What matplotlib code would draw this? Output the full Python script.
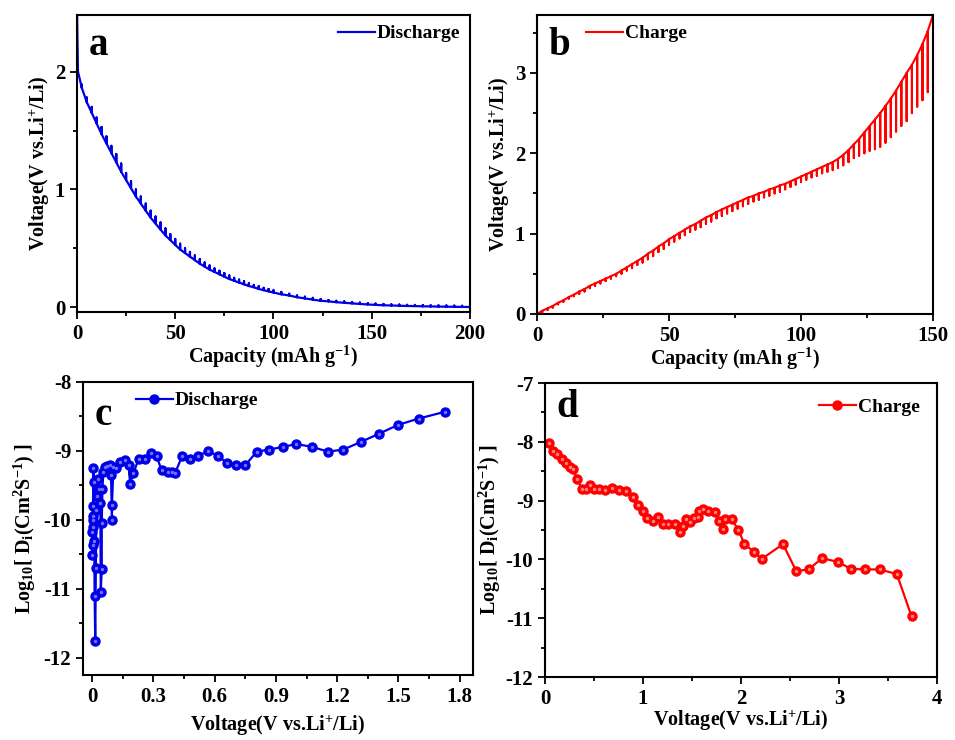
import numpy as np
import matplotlib
matplotlib.use('Agg')
import matplotlib.pyplot as plt
from matplotlib.ticker import MultipleLocator

plt.rcParams['font.family'] = ['Liberation Serif', 'DejaVu Serif']
plt.rcParams['axes.unicode_minus'] = False
plt.rcParams['mathtext.fontset'] = 'custom'
plt.rcParams['mathtext.rm'] = 'Liberation Serif:bold'
plt.rcParams['mathtext.it'] = 'Liberation Serif:bold'
plt.rcParams['mathtext.bf'] = 'Liberation Serif:bold'

# a: GITT discharge (pulse end capacity, loaded voltage, relaxed voltage)
dis_cap = [0, 0.5, 2.5, 5, 7.5, 10, 12.5, 15, 17.5, 20, 22.5, 25, 27.5, 30, 32.5, 35, 37.5, 40,
           42.5, 45, 47.5, 50, 52.5, 55, 57.5, 60, 62.5, 65, 67.5, 70, 72.5, 75, 77.5, 80,
           82.5, 85, 87.5, 90, 92.5, 95, 97.5, 100, 104, 108, 112, 116, 120, 124, 128, 132,
           136, 140, 144, 148, 152, 156, 160, 164, 168, 172, 176, 180, 184, 188, 192, 196, 200]
dis_load = [2.55, 2.00, 1.86, 1.74, 1.65, 1.56, 1.47, 1.39, 1.31, 1.23, 1.15, 1.08, 1.01, 0.94,
            0.88, 0.82, 0.76, 0.71, 0.66, 0.61, 0.57, 0.53, 0.49, 0.46, 0.43, 0.40, 0.37, 0.345,
            0.32, 0.30, 0.28, 0.26, 0.24, 0.225, 0.21, 0.195, 0.18, 0.17, 0.155, 0.145, 0.135,
            0.125, 0.11, 0.10, 0.085, 0.075, 0.065, 0.055, 0.05, 0.043, 0.038, 0.033, 0.028,
            0.024, 0.02, 0.017, 0.015, 0.013, 0.011, 0.01, 0.008, 0.007, 0.006, 0.005, 0.004,
            0.003, 0.002]
dis_relax = [2.55, 2.02, 1.89, 1.78, 1.70, 1.61, 1.53, 1.45, 1.37, 1.30, 1.22, 1.14, 1.07, 1.00,
             0.94, 0.88, 0.82, 0.77, 0.72, 0.67, 0.62, 0.58, 0.54, 0.50, 0.47, 0.44, 0.41, 0.38,
             0.355, 0.33, 0.31, 0.29, 0.27, 0.25, 0.235, 0.22, 0.205, 0.19, 0.18, 0.165, 0.155,
             0.145, 0.13, 0.115, 0.10, 0.09, 0.08, 0.07, 0.062, 0.055, 0.05, 0.045, 0.04,
             0.035, 0.031, 0.028, 0.025, 0.023, 0.021, 0.02, 0.018, 0.017, 0.016, 0.015, 0.014,
             0.013, 0.012]

# b: GITT charge
chg_cap = [0, 2, 4, 6, 8, 10, 12, 14, 16, 18, 20, 22, 24, 26, 28, 30, 32, 34, 36, 38, 40, 42,
           44, 46, 48, 50, 52, 54, 56, 58, 60, 62, 64, 66, 68, 70, 72, 74, 76, 78, 80, 82, 84,
           86, 88, 90, 92, 94, 96, 98, 100, 102, 104, 106, 108, 110, 112, 114, 116, 118, 120,
           122, 124, 126, 128, 130, 132, 134, 136, 138, 140, 142, 144, 146, 148, 150]
chg_load = [0.0, 0.04, 0.07, 0.10, 0.14, 0.17, 0.21, 0.24, 0.28, 0.31, 0.35, 0.38, 0.41, 0.44,
            0.47, 0.50, 0.54, 0.58, 0.62, 0.66, 0.70, 0.75, 0.79, 0.84, 0.88, 0.93, 0.97, 1.01,
            1.05, 1.09, 1.12, 1.16, 1.20, 1.23, 1.27, 1.30, 1.33, 1.36, 1.39, 1.42, 1.45, 1.47,
            1.50, 1.52, 1.55, 1.57, 1.60, 1.62, 1.65, 1.68, 1.71, 1.74, 1.77, 1.80, 1.83, 1.86,
            1.89, 1.93, 1.98, 2.04, 2.11, 2.18, 2.26, 2.34, 2.42, 2.50, 2.59, 2.68, 2.78, 2.89,
            3.00, 3.10, 3.22, 3.36, 3.52, 3.72]
chg_relax = [0.0, 0.02, 0.05, 0.08, 0.12, 0.15, 0.19, 0.22, 0.25, 0.28, 0.32, 0.35, 0.38, 0.41,
             0.44, 0.47, 0.50, 0.54, 0.57, 0.61, 0.64, 0.68, 0.72, 0.77, 0.81, 0.86, 0.90, 0.94,
             0.98, 1.02, 1.05, 1.08, 1.12, 1.15, 1.19, 1.22, 1.25, 1.28, 1.31, 1.34, 1.37, 1.40,
             1.42, 1.45, 1.47, 1.50, 1.52, 1.55, 1.58, 1.61, 1.64, 1.67, 1.70, 1.72, 1.75, 1.77,
             1.79, 1.82, 1.85, 1.89, 1.94, 1.97, 2.00, 2.03, 2.05, 2.08, 2.13, 2.20, 2.27, 2.34,
             2.40, 2.50, 2.58, 2.66, 2.76, 2.85]

# c: diffusion coefficient, discharge
c_volt = [1.73, 1.60, 1.50, 1.405, 1.315, 1.23, 1.155, 1.075, 1.00, 0.935, 0.868, 0.806, 0.749,
          0.705, 0.659, 0.615, 0.569, 0.52, 0.479, 0.44, 0.406, 0.39, 0.373, 0.34, 0.316, 0.287,
          0.259, 0.227, 0.202, 0.186, 0.178, 0.161, 0.137, 0.118, 0.104, 0.097, 0.097, 0.092,
          0.088, 0.075, 0.064, 0.055, 0.05, 0.047, 0.047, 0.042, 0.04, 0.035, 0.03, 0.025, 0.02,
          0.018, 0.015, 0.012, 0.01, 0.008, 0.006, 0.004, 0.003, 0.002, 0.001, 0.002, 0.0, 0.003]
c_logd = [-8.43, -8.53, -8.62, -8.75, -8.87, -8.98, -9.01, -8.94, -8.90, -8.94, -8.98, -9.01,
          -9.21, -9.20, -9.17, -9.07, -9.00, -9.07, -9.11, -9.08, -9.32, -9.31, -9.30, -9.28,
          -9.08, -9.03, -9.11, -9.12, -9.32, -9.48, -9.20, -9.13, -9.16, -9.25, -9.23, -9.78,
          -10.0, -9.35, -9.20, -9.22, -9.23, -9.30, -9.55, -10.05, -10.71, -11.04, -9.75, -9.55,
          -9.40, -9.65, -9.85, -10.7, -11.75, -11.11, -10.3, -9.45, -9.25, -9.8, -9.95, -10.1,
          -10.17, -10.37, -10.51, -10.0]

# d: diffusion coefficient, charge
d_volt = [0.044, 0.085, 0.126, 0.17, 0.215, 0.255, 0.283, 0.33, 0.375, 0.419, 0.46, 0.504, 0.555,
          0.613, 0.681, 0.759, 0.827, 0.895, 0.953, 1.004, 1.045, 1.106, 1.157, 1.208, 1.259,
          1.328, 1.379, 1.406, 1.44, 1.481, 1.522, 1.566, 1.576, 1.617, 1.668, 1.736, 1.78,
          1.815, 1.838, 1.906, 1.974, 2.032, 2.128, 2.213, 2.428, 2.564, 2.69, 2.826, 2.986,
          3.12, 3.26, 3.415, 3.59, 3.74]
d_logd = [-8.02, -8.16, -8.21, -8.29, -8.36, -8.42, -8.47, -8.63, -8.81, -8.81, -8.73, -8.80,
          -8.81, -8.82, -8.79, -8.82, -8.84, -8.94, -9.08, -9.18, -9.29, -9.35, -9.28, -9.39,
          -9.40, -9.40, -9.53, -9.44, -9.31, -9.36, -9.29, -9.28, -9.17, -9.14, -9.17, -9.19,
          -9.34, -9.48, -9.31, -9.32, -9.50, -9.73, -9.87, -9.99, -9.74, -10.20, -10.17, -9.98,
          -10.04, -10.16, -10.17, -10.17, -10.25, -10.97]

BLUE = '#0000e6'
RED = '#ff0000'
TICK_FS = 15
LABEL_FS = 14.5
LEG = {'weight': 'bold', 'size': 14}


def gitt_path(cap, load, relax):
    x = np.repeat(cap, 3)
    y = np.column_stack([load, relax, load]).ravel()
    return x, y


def style_axes(ax):
    for s in ax.spines.values():
        s.set_linewidth(1.5)
    ax.tick_params(which='both', direction='out', top=False, right=False,
                   labelsize=TICK_FS, width=1.3)
    ax.tick_params(which='major', length=5)
    ax.tick_params(which='minor', length=3)
    for lbl in ax.get_xticklabels() + ax.get_yticklabels():
        lbl.set_fontweight('bold')


fig = plt.figure(figsize=(9.55, 7.4), dpi=100)

# a
ax = fig.add_axes([0.0806, 0.5784, 0.4115, 0.4013])
x, y = gitt_path(dis_cap, dis_load, dis_relax)
ax.plot(x, y, color=BLUE, lw=1.6, label='Discharge')
ax.set_xlim(0, 200)
ax.set_ylim(-0.04, 2.48)
ax.xaxis.set_major_locator(MultipleLocator(50))
ax.xaxis.set_minor_locator(MultipleLocator(25))
ax.yaxis.set_major_locator(MultipleLocator(1))
ax.yaxis.set_minor_locator(MultipleLocator(0.5))
style_axes(ax)
ax.set_xlabel('Capacity (mAh g$^{-1}$)', fontsize=LABEL_FS, fontweight='bold', labelpad=0)
ax.set_ylabel('Voltage(V vs.Li$^{+}$/Li)', fontsize=LABEL_FS, fontweight='bold', labelpad=2)
ax.text(0.03, 0.96, 'a', transform=ax.transAxes, fontsize=28, fontweight='bold',
        va='top', ha='left')
ax.legend(loc='upper right', frameon=False, prop=LEG, handlelength=1.9,
          handletextpad=0.1, borderaxespad=0.1, bbox_to_anchor=(1.0, 1.0))

# b
ax = fig.add_axes([0.5623, 0.5757, 0.4147, 0.404])
x, y = gitt_path(chg_cap, chg_load, chg_relax)
ax.plot(x, y, color=RED, lw=1.5, label='Charge')
ax.set_xlim(0, 150)
ax.set_ylim(0, 3.72)
ax.xaxis.set_major_locator(MultipleLocator(50))
ax.xaxis.set_minor_locator(MultipleLocator(25))
ax.yaxis.set_major_locator(MultipleLocator(1))
ax.yaxis.set_minor_locator(MultipleLocator(0.5))
style_axes(ax)
ax.set_xlabel('Capacity (mAh g$^{-1}$)', fontsize=LABEL_FS, fontweight='bold', labelpad=0)
ax.set_ylabel('Voltage(V vs.Li$^{+}$/Li)', fontsize=LABEL_FS, fontweight='bold', labelpad=2)
ax.text(0.03, 0.96, 'b', transform=ax.transAxes, fontsize=28, fontweight='bold',
        va='top', ha='left')
ax.legend(loc='upper left', frameon=False, prop=LEG, handlelength=1.9,
          handletextpad=0.1, borderaxespad=0.1, bbox_to_anchor=(0.1, 1.0))

# c
ax = fig.add_axes([0.0869, 0.0878, 0.4084, 0.396])
ax.plot(c_volt, c_logd, color=BLUE, lw=1.6, marker='o', ms=6.5, mfc=BLUE, mec=BLUE,
        label='Discharge')
ax.plot(c_volt, c_logd, ls='none', marker='o', ms=1.5, color='#7070ff')
ax.set_xlim(-0.045, 1.865)
ax.set_ylim(-12.25, -8)
ax.xaxis.set_minor_locator(MultipleLocator(0.15))
ax.yaxis.set_major_locator(MultipleLocator(1))
ax.yaxis.set_minor_locator(MultipleLocator(0.5))
ax.set_xticks([0, 0.3, 0.6, 0.9, 1.2, 1.5, 1.8], ['0', '0.3', '0.6', '0.9', '1.2', '1.5', '1.8'])
style_axes(ax)
ax.set_xlabel('Voltage(V vs.Li$^{+}$/Li)', fontsize=LABEL_FS, fontweight='bold', labelpad=5)
ax.set_ylabel('Log$_{10}$[ D$_{\\rm i}$(Cm$^{2}$S$^{-1}$) ]', fontsize=LABEL_FS,
              fontweight='bold', labelpad=4)
ax.text(0.03, 0.95, 'c', transform=ax.transAxes, fontsize=28, fontweight='bold',
        va='top', ha='left')
ax.legend(loc='upper left', frameon=False, prop=LEG, handlelength=1.9,
          handletextpad=0.1, borderaxespad=0.1, bbox_to_anchor=(0.11, 1.0))

# d
ax = fig.add_axes([0.5707, 0.0851, 0.4105, 0.3973])
ax.plot(d_volt, d_logd, color=RED, lw=1.6, marker='o', ms=6.5, mfc=RED, mec=RED,
        label='Charge')
ax.plot(d_volt, d_logd, ls='none', marker='o', ms=1.5, color='#ff8080')
ax.set_xlim(0, 4)
ax.set_ylim(-12, -7)
ax.xaxis.set_major_locator(MultipleLocator(1))
ax.xaxis.set_minor_locator(MultipleLocator(0.5))
ax.yaxis.set_major_locator(MultipleLocator(1))
ax.yaxis.set_minor_locator(MultipleLocator(0.5))
style_axes(ax)
ax.set_xlabel('Voltage(V vs.Li$^{+}$/Li)', fontsize=LABEL_FS, fontweight='bold', labelpad=0)
ax.set_ylabel('Log$_{10}$[ D$_{\\rm i}$(Cm$^{2}$S$^{-1}$) ]', fontsize=LABEL_FS,
              fontweight='bold', labelpad=2)
ax.text(0.03, 0.98, 'd', transform=ax.transAxes, fontsize=28, fontweight='bold',
        va='top', ha='left')
ax.legend(loc='upper right', frameon=False, prop=LEG, handlelength=1.9,
          handletextpad=0.1, borderaxespad=0.1, bbox_to_anchor=(0.98, 0.98))

fig.savefig('out.png', dpi=100)
